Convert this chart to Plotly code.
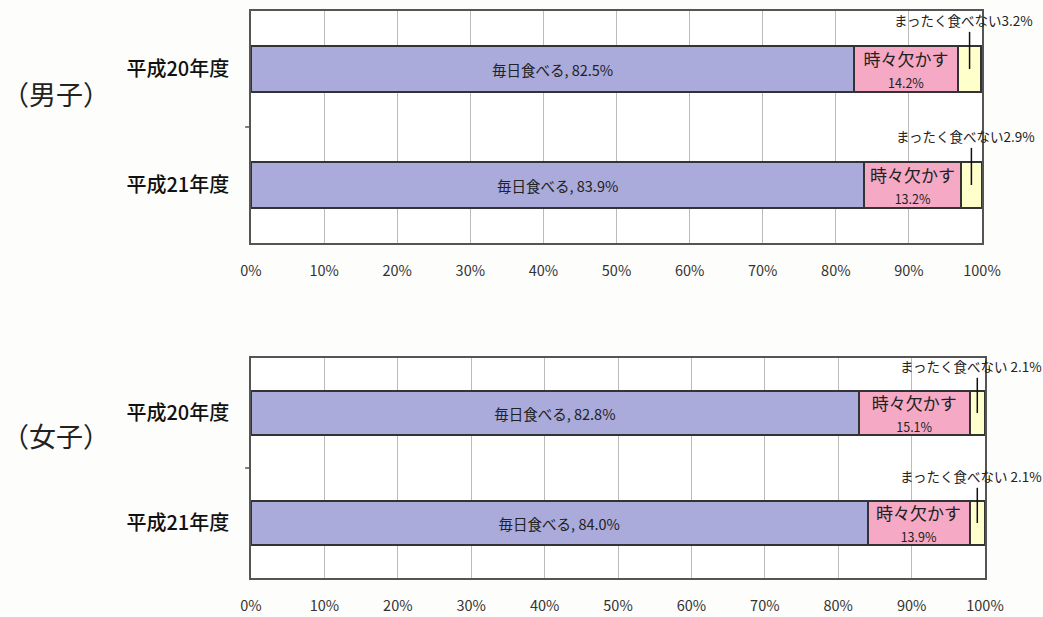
import plotly.graph_objects as go
from plotly.subplots import make_subplots

years = ["平成20年度", "平成21年度"]
groups = ["（男子）", "（女子）"]

# percent values per group, in order of years
boys_daily = [82.5, 83.9]
boys_sometimes = [14.2, 13.2]
boys_never = [3.2, 2.9]

girls_daily = [82.8, 84.0]
girls_sometimes = [15.1, 13.9]
girls_never = [2.1, 2.1]

x_ticks = list(range(0, 101, 10))

FONT = "Noto Sans CJK JP"
C_DAILY = "#aaaadb"
C_SOMETIMES = "#f5a9c4"
C_NEVER = "#ffffcc"
EDGE = "#333333"

fig = make_subplots(rows=2, cols=1)

data = [
    (boys_daily, boys_sometimes, boys_never, ""),
    (girls_daily, girls_sometimes, girls_never, " "),
]

for row, (daily, some, never, sep) in enumerate(data, start=1):
    fig.add_trace(go.Bar(
        y=years, x=daily, orientation="h", marker_color=C_DAILY,
        marker_line=dict(color=EDGE, width=2),
        texttemplate="毎日食べる, %{x:.1f}%", textposition="inside",
        insidetextanchor="middle", constraintext="none",
        textfont=dict(size=14.5, color="#222", family=FONT),
        hoverinfo="skip", showlegend=False,
    ), row=row, col=1)
    fig.add_trace(go.Bar(
        y=years, x=some, orientation="h", marker_color=C_SOMETIMES,
        marker_line=dict(color=EDGE, width=2),
        texttemplate="時々欠かす<br><span style='font-size:12.5px'>%{x:.1f}%</span>",
        textposition="inside", insidetextanchor="middle", constraintext="none",
        textfont=dict(size=17, color="#222", family=FONT),
        hoverinfo="skip", showlegend=False,
    ), row=row, col=1)
    fig.add_trace(go.Bar(
        y=years, x=never, orientation="h", marker_color=C_NEVER,
        marker_line=dict(color=EDGE, width=2),
        hoverinfo="skip", showlegend=False,
    ), row=row, col=1)

    xref = "x" if row == 1 else "x2"
    yref = "y" if row == 1 else "y2"
    for i, yr in enumerate(years):
        xc = daily[i] + some[i] + never[i] / 2
        # leader line from the small segment up to its label
        fig.add_shape(type="line", xref=xref, yref=yref,
                      x0=xc, x1=xc, y0=i, y1=i - 0.32,
                      line=dict(color="#111", width=1.5))
        fig.add_annotation(
            x=xc, y=i - 0.32, xref=xref, yref=yref,
            text=f"まったく食べない{sep}{never[i]:.1f}%",
            showarrow=False, yanchor="bottom", xshift=-6,
            font=dict(size=13.5, color="#222", family=FONT),
        )
    # short tick between the two categories
    fig.add_shape(type="line", xref=f"{xref} domain", yref=yref,
                  x0=-0.008, x1=0, y0=0.5, y1=0.5,
                  line=dict(color="#555", width=1.5))

W, H = 1043, 617
fig.update_layout(
    width=W, height=H, barmode="stack", bargap=0.6,
    margin=dict(l=0, r=0, t=0, b=0, autoexpand=False),
    paper_bgcolor="#fdfdfb", plot_bgcolor="white",
    font=dict(family=FONT),
    xaxis=dict(domain=[251 / W, 982 / W]),
    xaxis2=dict(domain=[251 / W, 985 / W]),
    yaxis=dict(domain=[1 - 243 / H, 1 - 11 / H]),
    yaxis2=dict(domain=[1 - 578 / H, 1 - 358 / H]),
)

fig.update_xaxes(
    range=[0, 100], tickvals=x_ticks, ticktext=[f"{v}%" for v in x_ticks],
    showgrid=True, gridcolor="#bbbbbb", gridwidth=1,
    showline=True, mirror=True, linecolor="#555", linewidth=1.5,
    ticks="", ticklabelstandoff=14, zeroline=False, automargin=False,
    tickfont=dict(size=14.5, color="#333", family=FONT),
)
fig.update_yaxes(
    categoryorder="array", categoryarray=years, autorange="reversed",
    showline=True, mirror=True, linecolor="#555", linewidth=1.5,
    ticks="", ticklabelstandoff=16, showgrid=False, automargin=False,
    tickfont=dict(size=20, color="#111", family=FONT, weight=500),
)

for name, yc in zip(groups, [94, 435]):
    fig.add_annotation(
        x=56 / W, y=1 - yc / H, xref="paper", yref="paper",
        xanchor="center", yanchor="middle",
        text=name, showarrow=False,
        font=dict(size=27, color="#222", family=FONT),
    )

fig.write_html(
    "out.html",
    config={"displayModeBar": False},
    post_script="document.body.style.margin='0';document.body.style.overflow='hidden';",
)
